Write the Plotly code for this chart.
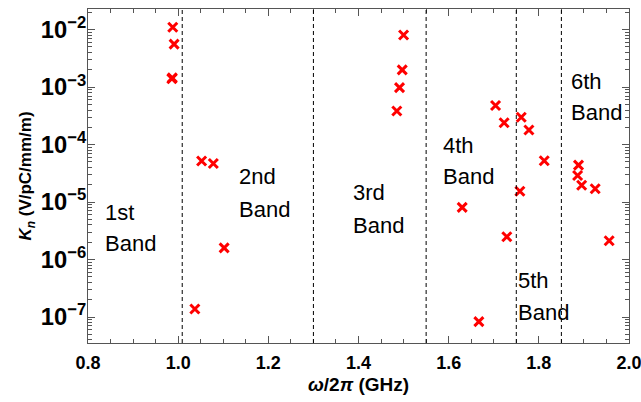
import plotly.graph_objects as go
import numpy as np

# Data (frequency in GHz, K_n in V/pC/mm/m)
freq = [0.988, 0.991, 0.986, 0.987,
        1.052, 1.078, 1.102, 1.037,
        1.500, 1.497, 1.491, 1.485,
        1.630, 1.667, 1.704, 1.723, 1.729,
        1.761, 1.778, 1.812, 1.758,
        1.888, 1.886, 1.895, 1.925, 1.956]
kn = [1.10e-2, 5.6e-3, 1.40e-3, 1.45e-3,
      5.2e-5, 4.7e-5, 1.6e-6, 1.38e-7,
      8.1e-3, 2.0e-3, 9.8e-4, 3.85e-4,
      8.1e-6, 8.3e-8, 4.8e-4, 2.4e-4, 2.5e-6,
      3.0e-4, 1.8e-4, 5.25e-5, 1.54e-5,
      4.4e-5, 2.9e-5, 1.96e-5, 1.71e-5, 2.13e-6]

band_edges = [1.009, 1.30, 1.55, 1.75, 1.85]

band_labels = ["1st", "2nd", "3rd", "4th", "5th", "6th"]
label_x = [0.834, 1.131, 1.383, 1.584, 1.750, 1.866]
label_y_top = [-5.181, -4.558, -4.833, -4.021, -6.370, -2.898]   # log10 positions
label_y_bot = [-5.712, -5.129, -5.399, -4.558, -6.927, -3.446]

FONT = "Liberation Sans, Arial"

fig = go.Figure()
fig.add_trace(go.Scatter(
    x=freq, y=kn, mode="markers",
    marker=dict(symbol="x-thin", size=9, color="red",
                line=dict(color="red", width=3)),
    showlegend=False, cliponaxis=False))

for xe in band_edges:
    fig.add_shape(type="line", xref="x", yref="paper", x0=xe, x1=xe, y0=0, y1=1,
                  line=dict(color="black", width=1, dash="4px,3px"))

for lab, lx, ly1, ly2 in zip(band_labels, label_x, label_y_top, label_y_bot):
    fig.add_annotation(x=lx, y=ly1, text=lab, showarrow=False, xanchor="left",
                       yanchor="middle", font=dict(size=22, color="black", family=FONT))
    fig.add_annotation(x=lx, y=ly2, text="Band", showarrow=False, xanchor="left",
                       yanchor="middle", font=dict(size=22, color="black", family=FONT))

axcol = "#555555"
fig.update_layout(
    width=641, height=402,
    margin=dict(l=88, r=12, t=9, b=59),
    plot_bgcolor="white", paper_bgcolor="white",
    font=dict(family=FONT, color="black"),
    xaxis=dict(
        range=[0.8, 2.0], tick0=0.8, dtick=0.2, tickformat=".1f",
        automargin=False, ticklabeloverflow="allow",
        showline=True, linecolor=axcol, linewidth=1, mirror="allticks",
        ticks="inside", ticklen=7, tickcolor=axcol, tickwidth=1,
        minor=dict(dtick=0.05, ticks="inside", ticklen=4, tickcolor=axcol, showgrid=False),
        showgrid=False, zeroline=False, ticklabelstandoff=3,
        tickfont=dict(size=18, family=FONT, weight="bold"),
        title=dict(text="<i>ω</i>/2<i>π</i> (GHz)", standoff=6,
                   font=dict(size=19, family=FONT, weight="bold")),
    ),
    yaxis=dict(
        type="log", range=[-7.452, -1.64], dtick=1, exponentformat="power",
        automargin=False, ticklabeloverflow="allow",
        showline=True, linecolor=axcol, linewidth=1, mirror="allticks",
        ticks="inside", ticklen=7, tickcolor=axcol, tickwidth=1,
        minor=dict(dtick="D1", ticks="inside", ticklen=4, tickcolor=axcol, showgrid=False),
        showgrid=False, zeroline=False, ticklabelstandoff=-3,
        tickfont=dict(size=19, family=FONT, weight="bold"),
        title=dict(text="<i>K<sub>n</sub></i> (V/pC/mm/m)", standoff=4,
                   font=dict(size=17, family=FONT, weight="bold")),
    ),
)

fig.write_html("out.html")
